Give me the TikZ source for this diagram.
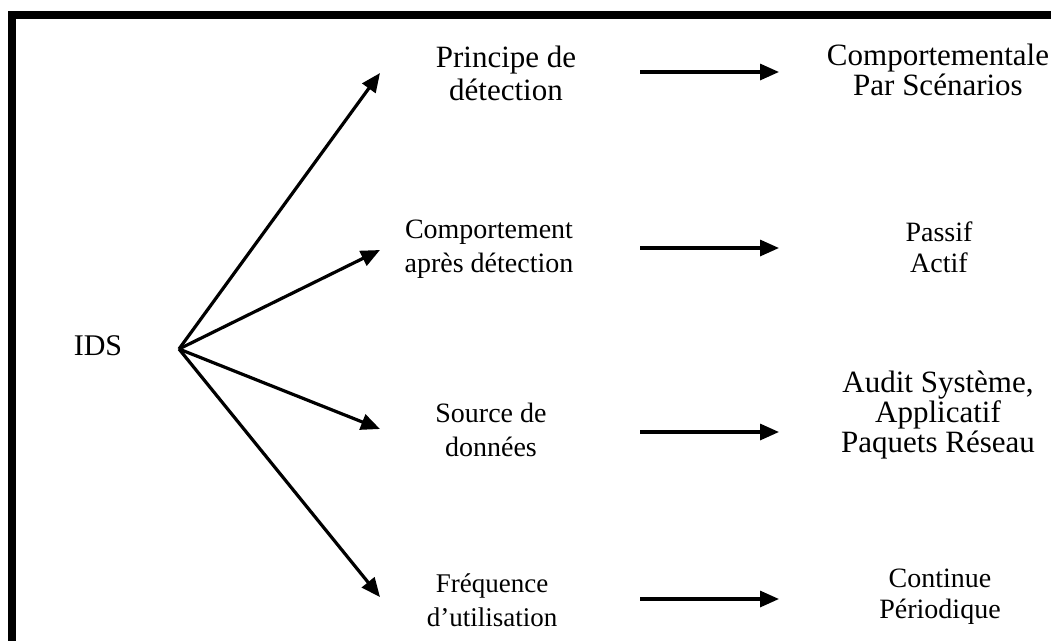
\documentclass[tikz,border=0pt]{standalone}
\usepackage{fontspec}
\setmainfont{Liberation Serif}
\usetikzlibrary{arrows.meta}
\begin{document}
\begin{tikzpicture}[x=1pt,y=-1pt,
  lbl/.style={align=center,inner sep=0pt},
  fs/.style 2 args={font=\fontsize{#1}{#2}\selectfont},
  arr/.style={line width=3.2pt,-{Triangle[length=19pt,width=16pt]}}]
\useasboundingbox (0,0) rectangle (1051,640);
% frame
\draw[line width=8pt,line join=miter] (12,680) -- (12,15) -- (1090,15);
% root
\node[lbl,fs={30}{34}] (ids) at (98,346) {IDS};
\coordinate (hub) at (179,349);
% criteria
\node[lbl,fs={31}{33}] (c1) at (506,73) {Principe de\\détection};
\node[lbl,fs={28}{34}] (c2) at (489,249) {Comportement\\après détection};
\node[lbl,fs={28}{34}] (c3) at (491,430) {Source de\\données};
\node[lbl,fs={27}{34}] (c4) at (492,600) {Fréquence\\d’utilisation};
% values
\node[lbl,fs={31}{30}] (v1) at (938,70) {Comportementale\\Par Scénarios};
\node[lbl,fs={28}{31}] (v2) at (939,247) {Passif\\Actif};
\node[lbl,fs={31}{30}] (v3) at (938,415) {Audit Système,\\Applicatif\\Paquets Réseau};
\node[lbl,fs={28}{31}] (v4) at (940,597) {Continue\\Périodique};
% fan arrow tips
\coordinate (t1) at (380,73);
\coordinate (t2) at (380,250);
\coordinate (t3) at (380,429);
\coordinate (t4) at (380,597);
\foreach \i in {1,...,4} \draw[arr] (hub) -- (t\i);
% horizontal arrows
\coordinate (s1) at (640,72);  \coordinate (e1) at (779,72);
\coordinate (s2) at (640,248); \coordinate (e2) at (779,248);
\coordinate (s3) at (640,432); \coordinate (e3) at (779,432);
\coordinate (s4) at (640,599); \coordinate (e4) at (779,599);
\foreach \i in {1,...,4} \draw[arr] (s\i) -- (e\i);
\end{tikzpicture}
\end{document}
